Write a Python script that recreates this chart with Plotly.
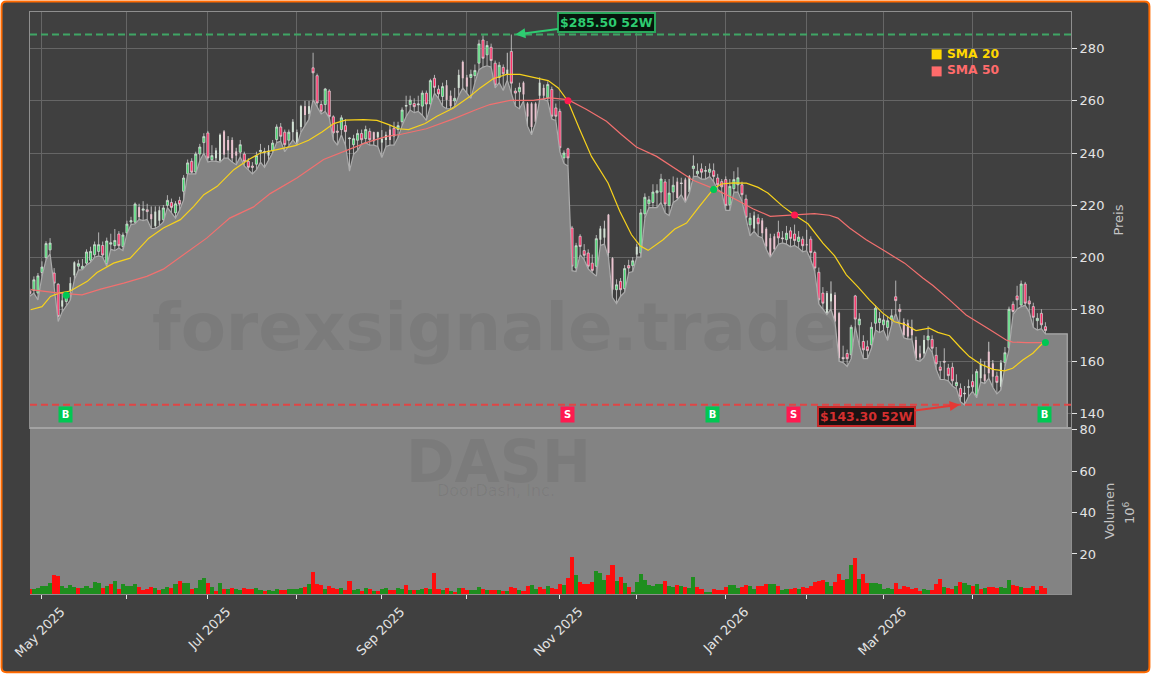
import plotly.graph_objects as go
from plotly.subplots import make_subplots

W, H = 1151, 674
PL, PR, PT, PB = 29.5, 1071.5, 11.5, 594.5  # plot box in page pixels
SPLIT = 428.3

opens = [187,187.2,186.2,194.1,199.8,202.8,193.9,189.6,181,183,
 187,193,196.5,195.5,197.7,198.8,200.9,202.2,204.5,197.5,
 205,204.4,208.9,204.1,209.3,213.5,213.4,219.2,218,218.2,
 216.5,212,214,214.4,219.9,221,217,221.8,225.3,232,
 236.8,232.7,239.6,244,247.7,237.4,238,237,248.3,245,
 245,240.6,240.3,239.6,236.8,235,235.7,240.5,240.3,239,
 241,245.2,250,248,244.9,248,244,250,258,255,
 272.7,269.7,258.6,258.6,263.8,253.9,248.4,249,250.5,245.5,
 243.2,244.9,247.5,245.5,248.3,248,246,244,245,249,
 249.5,249,252,258,258.6,259,258.5,258,263,258.8,
 268.7,264.5,261.7,266,262,260,265,275,269,269,
 269.7,274.5,283.4,277.7,280.6,274.5,269,272.9,270,279,
 263.8,263.5,267,259,259,259,262,265,261.2,264.4,
 257.3,256,238.1,241.6,211.2,195.8,208,202.5,201.6,197.7,
 196.5,206.7,207.5,216.3,199.6,187.5,190.7,187.9,196.8,196.7,
 201,201.6,216.6,220.5,221,224.7,225,228.9,219.8,225,
 229,228.5,229.8,225,234,232,233.9,233,232.6,233.2,
 230.4,229,229.8,220.1,226.3,227.8,227.8,222.3,212.4,211,
 215,214.1,210.9,207.3,208,209.6,207.4,206.7,210.1,208.9,
 206,206.9,205,206.9,201.8,194.2,186.2,178.5,183,185.5,
 178.5,161.5,163,162.5,185.1,174,167.6,165.6,166.3,174.6,
 174.9,174,173,176.1,184.8,180,175,174.6,173,168.2,
 163,163,168.2,168.4,162.3,157.8,160,157.4,157.7,150.6,
 149.6,147.5,150,152.2,147,153.5,155,163.7,159.2,154.3,
 150.2,159.5,165.2,181.9,185.1,181.6,189.7,183.2,181,175.6,178.4,173.3]
highs = [188,192.6,193.9,198.4,206.1,207.3,195.8,190,186,186,
 192.3,198.4,199,199.3,203,204,206,209.5,206,207.5,
 209,210.8,210,209.5,214,215.5,221,220.5,221.5,220.5,
 219.5,219.5,219.5,220,223.8,222.5,221.5,223.2,231.5,237.5,
 238,240.5,243.5,247.6,248.5,243,242,247.5,248.8,246.5,
 246,242,245,240.5,238,236.5,240.5,243.5,242,243,
 245,251,251.5,249,249,253,249,258.5,260,260,
 278.5,270.5,260,265,264.5,254.5,251,254.5,253,246,
 247,249,249,250.5,249.5,248.2,248.2,248.8,248.2,250.8,
 252,252,257.5,262,262,261,262,264,264,268.5,
 270,266,267,268,264,265,272,275.5,270,272,
 274,283.5,285.2,283,282,275.5,275,274,278.5,285.5,
 265,267,267.5,259.5,259.5,259.5,269,266.3,267.5,265.5,
 259,257,241,242,212,205.5,208.8,205,203,201,
 208.5,212,214,216.6,200,191.5,192,197,199,200,
 205,218.5,224.5,223.5,228,228,232,230,230,231,
 230.5,230.5,230.5,231.5,239.1,236,236,235,236,236,
 232,230,231,230,233,234.5,229,224,217,217.5,
 216.5,215,211.5,209,209,214,210,212,211.5,212.5,
 210,208,210.5,208,202.5,196,188.5,187,190.7,186.5,
 179,166,164.5,174,185.5,178.5,170,168,175,181.5,
 179,178,177,180,191,182,176.5,176,176,169.5,
 166,170,173.5,170,165.5,160,165,159,159.5,155,
 151.5,150.5,153,155,157,161,160,167.5,160.5,156,
 160.5,165.5,181,183,189,191,190.5,185,182.5,178.5,180,175]
lows = [185,186.2,183.6,192.6,199,201.3,188.7,175.3,179,181.5,
 183.5,191.3,195,195.2,197,198,200,200.5,200,196.5,
 203,202.5,203.5,202.5,209,212.5,212.8,214.5,214,214.5,
 211,211,212,213.5,219,217,215,218,222,232,
 232,232,237,240,236.5,237,236.8,236.5,238,238,
 236.5,235.5,238.5,235,233.5,232,233.5,236.5,234.5,237,
 240,244,244.5,240.5,243,245,243,248,250.5,253,
 260.5,257.5,255,256,253.5,245,243,247,243,233,
 239.5,241,243.5,244,243,243,242.5,238.3,242.5,243,
 243,246,250.5,254,256.5,255.5,256,254.5,252.5,258,
 263,261,258,257,257,258,262,265,263,261,
 267,272,273,273.5,273,265,267,264,268,263,
 258,257,260,250.3,247,251.5,260.5,260.5,260,253,
 252.5,240.5,236,235,194.8,194.5,201,199,195.5,194,
 192.7,204.5,205,200,184.5,182.2,185,186.5,194,194.5,
 200,200,215,219,219,219,221,217,216,221,
 222,224,221,224.5,231,231,230,230,231,229,
 226,225,218,218,225,225,221.5,214.5,208.2,210,
 208,207.5,203,200,202.5,205,205.5,205,204,204.5,
 203.5,202,202.5,199,194.5,182,180,178,180,175,
 160,159.5,158,161,173.5,166,161,161,165,172,
 171,172,168,174,178.4,174,169,168.5,168.5,160.5,
 160,161.5,165.5,163.5,157,153,153,152.5,150.5,149.5,
 144.5,143.3,146.5,148.5,146,152,151.5,153.5,150,147.5,
 149,158,164.5,178,180,181,181.5,179,173,172,172.5,170.5]
closes = [186,191.3,192.8,196.2,205.2,205.4,190,177.2,183.4,185.5,
 190,198,197.5,196.5,202,202.2,204.8,204.8,200.8,206.2,
 205.5,206.4,204.4,208.5,212.7,214,220.4,215.4,218.5,217.5,
 214.6,217.5,218,218.9,221.8,219.1,220.5,220.3,230.4,236.2,
 232.6,239.6,242.3,246.3,238.1,239,241,247,239.4,241,
 238,239,243.2,236.8,234.5,234.5,239,241,240.5,241,
 243.8,250,246.4,243.2,248,252,248,258,254.6,258,
 270.8,259.2,256,264.6,254,247.7,248,253.5,248.2,245.7,
 245.5,247.5,245.1,249,245.1,244.5,248,245.5,247,245,
 246.5,250.5,256.5,258.2,260.3,257.8,258.8,263,258.8,267.8,
 265.2,262.7,265.5,260.4,258,261,270,268.7,265.5,270.2,
 271.7,281.9,276.4,281.3,275.5,266.1,273.7,270.4,272,266.8,
 263,265.2,262.5,254,250,252,267,262,266.3,254.1,
 254.1,242,240,238.1,196.5,204.4,204.1,200.7,196.5,194.9,
 207.1,211,211,201.6,187.5,189.4,187.5,195.6,195.8,198.6,
 204,217,223,222,225,225.5,230,220.4,224.6,227.6,
 222.7,228.3,221.2,231,235,233,232.6,233.2,233.8,231,
 227.8,227,219.9,227.2,229.8,230.5,224,215.3,215,216,
 212.8,209.2,204.1,200.5,203,207.4,207.1,209.2,207.2,206.4,
 207.7,204.4,204.5,201.8,195.8,183.6,182.3,186.2,186,175.3,
 161.2,161,161,173.1,176.2,176.2,164.4,164.1,173.1,180.4,
 176.4,175.9,175.6,177.5,183.3,179.1,170,169.5,170,161.1,
 161.5,168.2,169.7,165,159,156.5,159.7,154.5,152.5,151.9,
 146.4,147.7,150.2,150.2,156.1,159,152.5,155.4,154.1,151.9,
 159.5,163.3,180,179.1,183.6,189.7,182.3,182,176.9,176.5,174,171.8]
# candles that read as thin, pale bodies in the picture
pale_idx = [8,10,11,27,30,31,32,46,47,48,49,50,51,59,65,66,67,68,69,85,86,87,88,89,
            103,104,106,107,108,118,122,123,124,125,126,127,141,142,143,144,150,160,
            162,163,179,181,182,183,184,192,197,198,199,200,216,217,218,219,220,221,
            235,236,237,238,240]

volumes = [3.2,3.2,3.7,4.7,4.7,6,10,9.2,4.7,3.7,5,4,3.7,3.7,4.7,3.7,6.6,6,3.7,4.7,
 5.6,7.1,3.2,5.3,4.7,4.7,5.6,4.2,2.7,3.2,4.2,3.7,2.7,3.2,4.2,3.7,5.6,7.1,6,6.1,
 3.2,3.7,7.6,8.5,6.1,4.2,2.25,6.1,3.2,3.2,3.7,3.2,2.7,3.7,3.2,3.2,3.7,2.7,2.25,2.4,
 2.1,3.2,2.7,2.7,3.2,3.2,3.2,3.7,4.2,5.6,11.4,5.6,5.2,3.2,4.7,3.7,3.2,3.7,2.7,7.1,
 2.7,3.2,2.25,3.7,3.2,2.1,2.25,3.2,3.7,2.7,2.7,3.7,3.2,5.2,2.7,2.7,2.7,3.2,3.7,3.2,
 11,3.2,2.7,3.7,2.1,1.8,3.7,3.7,2.7,2.7,2.7,4.2,3.2,2.7,2.7,2.7,2.7,2.25,2.25,4.2,
 3.7,2.7,2.25,4.7,5.2,3.2,4.2,3.2,4.7,3.7,3.2,5.6,5.2,8.5,18.7,10,6.6,5.6,5.6,6.6,
 11.9,11,7.6,10,14.8,7.1,9,6.1,4.2,1.8,6.6,10.5,7.6,5.2,4.7,5.6,5.6,7.1,4.7,4.2,
 5.2,4.7,4.2,3.7,9,4.2,3.2,1.8,1.8,3.2,2.7,2.7,4.2,5.2,5.2,3.7,4.2,5.2,4.7,3.2,
 4.7,4.7,5.6,5.6,5.6,4.7,2.7,3.2,3.2,3.7,3.2,4.2,3.7,4.7,6.6,7.1,7.6,6.6,4.7,6.6,
 10.5,7.6,8.1,14.8,18.2,8.1,10.5,6.1,6.1,6.1,5.6,3.2,3.7,3.2,6.1,3.2,4.7,4.2,3.2,3.7,
 2.25,3.2,2.7,2.7,5.6,8.1,4.2,3.7,3.2,4.7,6.6,6.1,5.2,4.7,5.6,3.2,3.7,4.2,4.2,3.7,
 4.2,3.7,7.6,5.2,4.7,4.2,3.7,3.7,4.7,2.7,4.7,3.7]
# sessions whose volume bar is red; all others are green
volume_red = {0,6,7,12,18,20,22,27,28,29,30,32,35,37,40,44,46,48,50,53,54,55,58,62,63,68,70,71,72,74,75,76,78,79,
 82,84,86,89,90,93,95,98,100,101,103,105,107,108,112,114,115,117,119,120,122,123,126,127,129,130,131,133,134,136,137,
 138,139,143,144,146,148,157,160,162,165,166,169,170,171,172,176,177,180,181,182,185,188,189,191,192,193,194,195,196,
 199,200,201,204,206,207,214,215,216,217,218,219,220,223,224,225,227,228,230,233,235,237,238,239,243,244,246,247,248,250,251}

sma20_x = [0.2,3,5.1,7.2,10,14.2,16.6,20.7,24.8,29.4,33,37.2,40.5,43,46.3,50.4,54.1,57,61.1,65.6,68.9,72.2,75.1,78,82.5,85.8,88.7,91.1,
 93.6,97.7,100.6,104.7,108.8,111.3,114.5,117.8,121.1,124.4,128.1,130.6,133,135.9,138.8,142.9,145.8,148.7,150.8,152.8,156.5,159.4,162.3,165.2,169,170.9,173.8,177.1,180,182.4,186.1,189,192.3,196,198.9,201.8,204.6,207.5,210.8,213.7,216.2,219,222.3,224.4,227.3,229.8,232.2,235.1,238,240.9,242.9,245.4,247.9,250.3,251]
sma20_y = [179.8,181,184.9,186.2,187,190.7,194.1,197.7,199.6,207.3,211.2,214.4,219.5,224,227.2,233.6,237.5,240,241.3,242.8,244.9,248.1,251.3,252.6,252.8,252.5,250.9,249.3,
 249,251.3,254.1,257.3,261.8,265,268.5,270.2,270.2,269.1,267.8,265,259.9,249,238.7,228.5,217.6,208.6,204.4,202.6,206.7,210.8,213.1,218.9,226.3,228.1,228.5,228.4,226.8,224.6,219.5,216.2,212.8,205.4,200.5,193.2,188.7,183.6,178.5,175.2,174.2,171.8,172.7,171.1,169.8,165.6,161.8,158.8,156.9,156.3,157.3,160.5,163.1,166.9,167.3]
sma50_x = [0.2,7.2,12.9,17.5,23.2,28.9,33,38.7,43.7,49.4,55.3,59.4,66,72.6,78.3,83.3,88.2,91.5,98,104.7,110.4,113.7,118.7,124.4,128.5,133,137.6,142.5,146.2,149.9,154.9,159.8,163.9,169,173.8,178.7,183,189,193.9,197.6,199.7,202.6,206.7,210.8,216.2,220.7,223.2,227.3,231.4,237.2,241.3,242.9,246.2,251]
sma50_y = [187.5,186.2,185.5,187.7,190,192.6,195.4,201.6,207.3,215,219.3,224.4,230.4,237.5,241,244.1,246.4,247.1,249.3,253.1,256.7,258.6,260.2,260.2,261.2,260.5,256.7,252.2,247.1,242.3,238.7,233.6,229.5,226.3,222.7,218.6,215.7,216.2,216.7,216.1,215,211.2,206.7,202.8,197.7,192,189.1,183.6,177.8,172.2,168.2,167.4,167.2,167.2]

signal_x = [9, 133, 169, 189, 251]
signal_y = [185.4, 260.1, 226, 216.2, 167.2]
signal_type = ["B", "S", "B", "S", "B"]

label_ticks = [3, 44, 87, 131, 172, 211]
label_texts = ["May 2025", "Jul 2025", "Sep 2025", "Nov 2025", "Jan 2026", "Mar 2026"]
other_ticks = [24, 66, 108, 150, 192, 233]

high_52w, low_52w = 285.5, 143.3
area_end_x, area_end_y = 256.4, 170.5
price_range = [134.35, 294.15]
volume_range = [0.7, 80.7]

BG = "#404040"; GRID = "#666666"; SPINE = "#8f8f8f"; TICK = "#e4e4e4"; TITLE = "#c4c4c4"
AREA = "#838383"; AREA_LINE = "#ababab"
UP = "#45d96f"; DOWN = "#ff2460"; BUY = "#00c853"; SELL = "#ff1a50"
GOLD = "#f7d21c"; SALMON = "#f2706f"
FONT = "DejaVu Sans"

def px(x): return (x - PL) / (PR - PL)
def py(y): return (PB - y) / (PB - PT)

fig = make_subplots(rows=2, cols=1, shared_xaxes=True, vertical_spacing=0)
n = len(closes)
idx = list(range(n))
pale = set(pale_idx)
solid_i = [i for i in idx if i not in pale]
pale_i = [i for i in idx if i in pale]

fig.add_trace(go.Scatter(x=idx + [area_end_x, area_end_x], y=lows + [area_end_y, price_range[0]],
                         mode="lines", line=dict(color=AREA_LINE, width=1.2), fill="tozeroy",
                         fillcolor=AREA, hoverinfo="skip", showlegend=False), 1, 1)

# thin pale candles: a thin wick and a slightly wider pale body, both drawn as OHLC stems
fig.add_trace(go.Ohlc(x=pale_i, open=[opens[i] for i in pale_i], high=[highs[i] for i in pale_i],
                      low=[lows[i] for i in pale_i], close=[closes[i] for i in pale_i], tickwidth=0,
                      increasing=dict(line=dict(color="#c8c8c8", width=1)),
                      decreasing=dict(line=dict(color="#c8c8c8", width=1)), showlegend=False), 1, 1)
fig.add_trace(go.Ohlc(x=pale_i, open=[opens[i] for i in pale_i], close=[closes[i] for i in pale_i],
                      high=[max(opens[i], closes[i]) for i in pale_i],
                      low=[min(opens[i], closes[i]) for i in pale_i], tickwidth=0,
                      increasing=dict(line=dict(color="#d3e2d5", width=2)),
                      decreasing=dict(line=dict(color="#eac3cf", width=2)), showlegend=False), 1, 1)
fig.add_trace(go.Candlestick(x=solid_i, open=[opens[i] for i in solid_i], high=[highs[i] for i in solid_i],
                             low=[lows[i] for i in solid_i], close=[closes[i] for i in solid_i],
                             increasing=dict(fillcolor=UP, line=dict(color="#e2e2e2", width=0.7)),
                             decreasing=dict(fillcolor=DOWN, line=dict(color="#e2e2e2", width=0.7)),
                             whiskerwidth=0, showlegend=False), 1, 1)

fig.add_trace(go.Scatter(x=sma20_x, y=sma20_y, mode="lines", name="SMA 20",
                         line=dict(color=GOLD, width=1.2), showlegend=False), 1, 1)
fig.add_trace(go.Scatter(x=sma50_x, y=sma50_y, mode="lines", name="SMA 50",
                         line=dict(color=SALMON, width=1.2), showlegend=False), 1, 1)
fig.add_trace(go.Scatter(x=signal_x, y=signal_y, mode="markers", showlegend=False,
                         marker=dict(size=7, color=[BUY if t == "B" else SELL for t in signal_type])), 1, 1)

vol_colors = ["#ff0d0d" if i in volume_red else "#1e8e1e" for i in idx]
fig.add_trace(go.Bar(x=idx, y=volumes, marker=dict(color=vol_colors, line_width=0), width=1.0,
                     base=0, showlegend=False), 2, 1)

shapes = []
x0, x1, y0, y1, r = px(1), px(W - 1), py(1), py(H - 1), 5
rx, ry = r / (PR - PL), r / (PB - PT)
shapes.append(dict(type="path", xref="paper", yref="paper", layer="below", fillcolor=BG,
                   line=dict(color="#ff6a00", width=2),
                   path=(f"M {x0+rx} {y0} L {x1-rx} {y0} Q {x1} {y0} {x1} {y0-ry} L {x1} {y1+ry} "
                         f"Q {x1} {y1} {x1-rx} {y1} L {x0+rx} {y1} Q {x0} {y1} {x0} {y1+ry} "
                         f"L {x0} {y0-ry} Q {x0} {y0} {x0+rx} {y0} Z")))
shapes.append(dict(type="rect", xref="x domain", yref="y2 domain", x0=0, x1=1, y0=0, y1=1,
                   layer="below", fillcolor=AREA, line_width=0))
shapes.append(dict(type="line", xref="paper", yref="paper", x0=0, x1=1, y0=py(SPLIT), y1=py(SPLIT),
                   line=dict(color="#a3a3a3", width=2)))
shapes.append(dict(type="line", xref="x domain", yref="y", x0=0, x1=1, y0=high_52w, y1=high_52w,
                   line=dict(color="#3fa565", width=2, dash="7px,4px")))
shapes.append(dict(type="line", xref="x domain", yref="y", x0=0, x1=1, y0=low_52w, y1=low_52w,
                   line=dict(color="#e04545", width=2, dash="7px,4px")))
# legend squares
shapes.append(dict(type="rect", xref="paper", yref="paper", x0=px(932), x1=px(942), y0=py(59), y1=py(49),
                   fillcolor="#ffd700", line_width=0))
shapes.append(dict(type="rect", xref="paper", yref="paper", x0=px(932), x1=px(942), y0=py(76), y1=py(66),
                   fillcolor="#ff6b6b", line_width=0))

ann = []
def paper_text(text, x, y, size, color, bold=False, angle=0):
    ann.append(dict(text=f"<b>{text}</b>" if bold else text, xref="paper", yref="paper", x=px(x), y=py(y),
                    showarrow=False, xanchor="center", yanchor="middle", textangle=angle,
                    font=dict(family=FONT, size=size, color=color)))

paper_text("forexsignale.trade", 495, 328, 65.8, "rgba(0,0,0,0.06)", True)
paper_text("DASH", 498, 462, 58.5, "rgba(0,0,0,0.06)", True)
paper_text("DoorDash, Inc.", 496, 491, 16, "rgba(0,0,0,0.06)")
paper_text("SMA 20", 973, 54, 12.3, "#ffd700", True)
paper_text("SMA 50", 973, 70, 12.3, "#ff6b6b", True)
paper_text("10<sup>6</sup>", 1129, 513, 13, TITLE, angle=-90)

for sx, t in zip(signal_x, signal_type):
    ann.append(dict(text=f"<b>{t}</b>", x=sx - 0.2, y=139.6, xref="x", yref="y", showarrow=False,
                    bgcolor=BUY if t == "B" else SELL, width=12, height=14, borderpad=0.5,
                    font=dict(family=FONT, size=10, color="white")))

ann.append(dict(text="<b>$285.50 52W</b>", x=120, y=high_52w, xref="x", yref="y", ax=91, ay=-12,
                showarrow=True, arrowhead=2, arrowsize=1, arrowwidth=2, arrowcolor="#2ecc71",
                bgcolor="#07160d", bordercolor="#2aa85c", borderwidth=2, borderpad=1,
                font=dict(family=FONT, size=12.5, color="#2ecc71")))
ann.append(dict(text="<b>$143.30 52W</b>", x=229.8, y=low_52w, xref="x", yref="y", ax=-93.5, ay=12,
                showarrow=True, arrowhead=2, arrowsize=1, arrowwidth=2, arrowcolor="#e53935",
                bgcolor="#1c1212", bordercolor="#c62828", borderwidth=2, borderpad=1,
                font=dict(family=FONT, size=12.5, color="#d32f2f")))

fig.update_layout(width=W, height=H, paper_bgcolor="white", plot_bgcolor="rgba(0,0,0,0)",
                  margin=dict(l=PL, r=W - PR, t=PT, b=H - PB, autoexpand=False),
                  font=dict(family=FONT, size=13, color=TICK), showlegend=False, shapes=shapes, annotations=ann,
                  bargap=0, boxgap=0.25, xaxis_rangeslider_visible=False, xaxis2_rangeslider_visible=False)

x_range = [(PL - 29.35) / 4.05, (PR - 29.35) / 4.05]
common_x = dict(range=x_range, zeroline=False, showline=True, linecolor=SPINE, linewidth=1, mirror=True,
                rangeslider_visible=False)
fig.update_xaxes(**common_x, row=1, col=1, tickmode="array", tickvals=label_ticks + other_ticks,
                 showgrid=True, gridcolor=GRID, gridwidth=1, showticklabels=False, ticks="")
fig.update_xaxes(**common_x, row=2, col=1, tickmode="array", tickvals=label_ticks, ticktext=label_texts,
                 showgrid=False, tickangle=-45, ticks="outside", ticklen=4, tickcolor=TICK,
                 ticklabelshift=19, ticklabelstandoff=0,
                 minor=dict(tickmode="array", tickvals=other_ticks, ticks="outside", ticklen=4, tickcolor=TICK, showgrid=False),
                 tickfont=dict(family=FONT, size=13, color=TICK))
fig.update_layout(yaxis=dict(domain=[py(SPLIT), 1]), yaxis2=dict(domain=[0, py(SPLIT)]))
fig.update_yaxes(row=1, col=1, range=price_range, side="right", tickmode="array",
                 tickvals=[140, 160, 180, 200, 220, 240, 260, 280], showgrid=True, gridcolor=GRID, gridwidth=1,
                 zeroline=False, showline=True, linecolor=SPINE, linewidth=1, mirror=True, ticks="outside",
                 ticklen=5, tickcolor=TICK, tickfont=dict(family=FONT, size=13, color=TICK), automargin=False,
                 title=dict(text="Preis", standoff=10, font=dict(family=FONT, size=13, color=TITLE)))
fig.update_yaxes(row=2, col=1, range=volume_range, side="right", tickmode="array", tickvals=[20, 40, 60, 80],
                 showgrid=False, zeroline=False, showline=True, linecolor=SPINE, linewidth=1, ticks="outside",
                 ticklen=5, tickcolor=TICK, tickfont=dict(family=FONT, size=13, color=TICK), automargin=False,
                 title=dict(text="Volumen", standoff=9, font=dict(family=FONT, size=13, color=TITLE)))

fig.write_html("out.html", config=dict(displayModeBar=False),
               post_script="document.body.style.margin='0';document.body.style.overflow='hidden';")
